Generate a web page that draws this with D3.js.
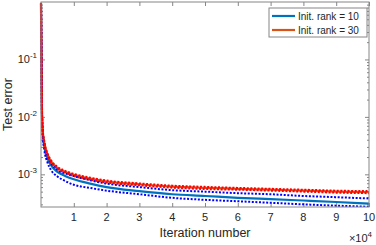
<!DOCTYPE html>
<html>
<head>
<meta charset="utf-8">
<script src="https://cdn.jsdelivr.net/npm/d3@7"></script>
<style>
  body { margin: 0; background: #fff; }
  svg text { font-family: "Liberation Sans", Arial, sans-serif; fill: #262626; }
</style>
</head>
<body>
<div id="chart"></div>
<script>
// data
var iters = [1, 100, 300, 500, 1000, 2000, 3000, 5000, 7500, 10000, 15000, 20000,
  30000, 40000, 50000, 60000, 70000, 80000, 90000, 100000];

var rank10Mean = [0.95, 0.19, 0.011, 5.4e-3, 3.1e-3, 1.9e-3, 1.45e-3, 1.1e-3, 9.3e-4, 8.2e-4,
  6.9e-4, 6.0e-4, 5.1e-4, 4.5e-4, 4.2e-4, 3.9e-4, 3.7e-4, 3.5e-4, 3.3e-4, 3.1e-4];
var rank10Upper = [0.96, 0.2, 0.0115, 5.8e-3, 3.4e-3, 2.1e-3, 1.6e-3, 1.2e-3, 1.03e-3, 9.3e-4,
  7.9e-4, 6.9e-4, 6.0e-4, 5.3e-4, 5.0e-4, 4.7e-4, 4.5e-4, 4.2e-4, 4.0e-4, 3.8e-4];
var rank10Lower = [0.94, 0.18, 0.0105, 5.0e-3, 2.7e-3, 1.6e-3, 1.2e-3, 9.2e-4, 7.6e-4, 6.6e-4,
  5.8e-4, 5.2e-4, 4.5e-4, 3.9e-4, 3.6e-4, 3.4e-4, 3.2e-4, 3.0e-4, 2.85e-4, 2.72e-4];

var rank30Mean = [0.95, 0.2, 0.012, 6.0e-3, 3.6e-3, 2.2e-3, 1.7e-3, 1.3e-3, 1.1e-3, 9.8e-4,
  8.4e-4, 7.5e-4, 6.7e-4, 6.1e-4, 5.8e-4, 5.6e-4, 5.4e-4, 5.2e-4, 5.0e-4, 4.9e-4];
var rank30Upper = [0.97, 0.21, 0.0127, 6.3e-3, 3.75e-3, 2.3e-3, 1.77e-3, 1.35e-3, 1.14e-3, 1.02e-3,
  8.75e-4, 7.8e-4, 6.95e-4, 6.35e-4, 6.05e-4, 5.8e-4, 5.6e-4, 5.4e-4, 5.2e-4, 5.1e-4];
var rank30Lower = [0.93, 0.19, 0.0113, 5.7e-3, 3.45e-3, 2.1e-3, 1.63e-3, 1.25e-3, 1.06e-3, 9.4e-4,
  8.05e-4, 7.2e-4, 6.45e-4, 5.85e-4, 5.55e-4, 5.4e-4, 5.2e-4, 5.0e-4, 4.8e-4, 4.7e-4];

var xTicks = [10000, 20000, 30000, 40000, 50000, 60000, 70000, 80000, 90000, 100000];
var xTickLabels = ["1", "2", "3", "4", "5", "6", "7", "8", "9", "10"];
var yTicks = [1e-3, 1e-2, 1e-1];
var yTickExps = ["-3", "-2", "-1"];
var legendLabels = ["Init. rank = 10", "Init. rank = 30"];

var svgWidth = 376, svgHeight = 245;
var margin = { top: 2, right: 7, bottom: 38, left: 41 };
var chartWidth = svgWidth - margin.left - margin.right;
var chartHeight = svgHeight - margin.top - margin.bottom;

var svg = d3.select("#chart").append("svg")
  .attr("width", svgWidth).attr("height", svgHeight);

var chartGroup = svg.append("g")
  .attr("transform", `translate(${margin.left}, ${margin.top})`);

var x = d3.scaleLinear().domain([1, 100000]).range([0, chartWidth]);
var y = d3.scaleLog().domain([2.7e-4, 1]).range([chartHeight, 0]);

// minor log ticks
var minorTicks = [];
[1e-4, 1e-3, 1e-2, 1e-1].forEach(function(d) {
  for (var k = 2; k <= 9; k++) {
    var v = d * k;
    if (v >= 2.7e-4 && v <= 1) minorTicks.push(v);
  }
});

var axisColor = "#868686";

function styleAxis(g) {
  g.select(".domain").remove();
  g.selectAll(".tick line").attr("stroke", axisColor);
  g.selectAll(".tick text").remove();
}

// ticks, pointing inward, on all four sides
chartGroup.append("g").attr("transform", `translate(0, ${chartHeight})`)
  .call(d3.axisBottom(x).tickValues(xTicks).tickSize(-4)).call(styleAxis);
chartGroup.append("g")
  .call(d3.axisTop(x).tickValues(xTicks).tickSize(-4)).call(styleAxis);
chartGroup.append("g")
  .call(d3.axisLeft(y).tickValues(yTicks).tickSize(-4)).call(styleAxis);
chartGroup.append("g")
  .call(d3.axisLeft(y).tickValues(minorTicks).tickSize(-2)).call(styleAxis);
chartGroup.append("g").attr("transform", `translate(${chartWidth}, 0)`)
  .call(d3.axisRight(y).tickValues(yTicks).tickSize(-4)).call(styleAxis);
chartGroup.append("g").attr("transform", `translate(${chartWidth}, 0)`)
  .call(d3.axisRight(y).tickValues(minorTicks).tickSize(-2)).call(styleAxis);

// tick labels
chartGroup.selectAll(".xlab").data(xTicks).enter().append("text")
  .attr("x", d => x(d)).attr("y", chartHeight + 14)
  .attr("text-anchor", "middle").style("font-size", "11px")
  .text((d, i) => xTickLabels[i]);

var ylab = chartGroup.selectAll(".ylab").data(yTicks).enter().append("text")
  .attr("x", -4).attr("y", d => y(d) + 4)
  .attr("text-anchor", "end").style("font-size", "11px");
ylab.append("tspan").text("10");
ylab.append("tspan").attr("dy", -5).style("font-size", "8px").text((d, i) => yTickExps[i]);

// clip (a little wider on the left so the steep start is not cut in half)
svg.append("defs").append("clipPath").attr("id", "clip")
  .append("rect").attr("x", -2).attr("width", chartWidth + 2).attr("height", chartHeight);

var plot = chartGroup.append("g").attr("clip-path", "url(#clip)");

var line = d3.line()
  .x((d, i) => x(iters[i]))
  .y(d => y(d))
  .curve(d3.curveMonotoneX);

var series = [
  { values: rank10Mean, color: "#0072BD", width: 2.2, dash: null },
  { values: rank30Mean, color: "#D95319", width: 2.2, dash: null },
  { values: rank10Upper, color: "#0000FF", width: 2, dash: "2,1.6" },
  { values: rank10Lower, color: "#0000FF", width: 2, dash: "2,1.6" },
  { values: rank30Upper, color: "#FF0000", width: 2, dash: "2,1.6" },
  { values: rank30Lower, color: "#FF0000", width: 2, dash: "2,1.6" }
];

series.forEach(function(s) {
  plot.append("path")
    .datum(s.values)
    .attr("d", line)
    .attr("fill", "none")
    .attr("stroke", s.color)
    .attr("stroke-width", s.width)
    .attr("stroke-dasharray", s.dash);
});

// box
chartGroup.append("rect")
  .attr("width", chartWidth).attr("height", chartHeight)
  .attr("fill", "none").attr("stroke", axisColor).attr("stroke-width", 1);

// axis labels
svg.append("text")
  .attr("x", margin.left + chartWidth / 2).attr("y", 237)
  .attr("text-anchor", "middle").style("font-size", "12.5px")
  .text("Iteration number");

svg.append("text")
  .attr("transform", "rotate(-90)")
  .attr("x", -(margin.top + chartHeight / 2)).attr("y", 12)
  .attr("text-anchor", "middle").style("font-size", "12.5px")
  .text("Test error");

var mult = svg.append("text")
  .attr("x", svgWidth - 4).attr("y", 242)
  .attr("text-anchor", "end").style("font-size", "11px");
mult.append("tspan").text("\u00d710");
mult.append("tspan").attr("dy", -5).style("font-size", "8px").text("4");

// legend
var legend = svg.append("g").attr("transform", "translate(269, 8)");
legend.append("rect")
  .attr("width", 98).attr("height", 29)
  .attr("fill", "#fff").attr("stroke", axisColor).attr("stroke-width", 1);

var legendColors = ["#0072BD", "#D95319"];
legendLabels.forEach(function(lbl, i) {
  legend.append("line")
    .attr("x1", 3).attr("x2", 26)
    .attr("y1", 8 + i * 14).attr("y2", 8 + i * 14)
    .attr("stroke", legendColors[i]).attr("stroke-width", 2.2);
  legend.append("text")
    .attr("x", 29).attr("y", 12 + i * 14)
    .style("font-size", "10px")
    .text(lbl);
});
</script>
</body>
</html>
